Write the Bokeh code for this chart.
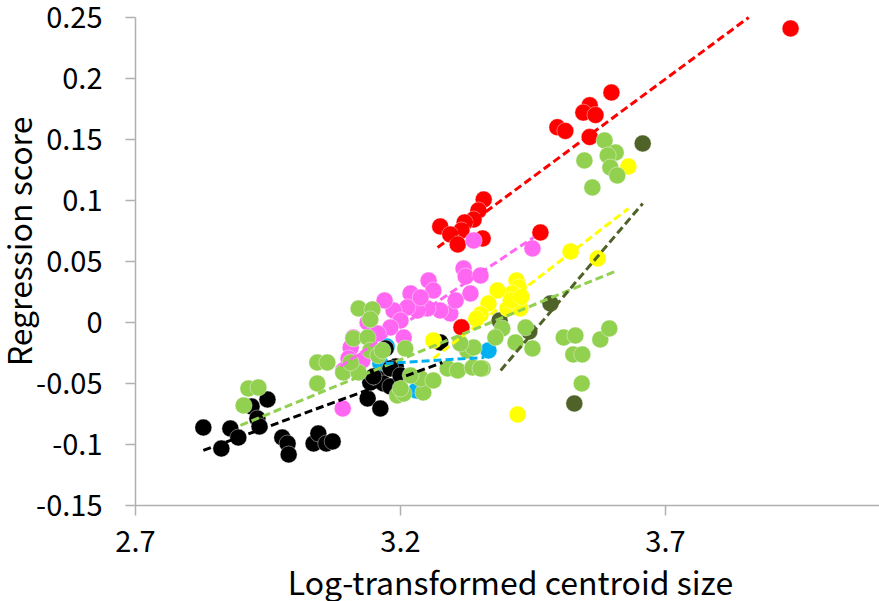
import math
from bokeh.plotting import figure
from bokeh.models import Range1d, FixedTicker, Label
from bokeh.embed import file_html
from bokeh.resources import INLINE

# ---- data ----
red_x = [3.936, 3.598, 3.557, 3.545, 3.568, 3.496, 3.511, 3.557, 3.357, 3.347, 3.338, 3.321,
         3.315, 3.275, 3.294, 3.308, 3.355, 3.464, 3.315]
red_y = [0.241, 0.1885, 0.178, 0.172, 0.170, 0.160, 0.157, 0.152, 0.1008, 0.0918, 0.0844, 0.082,
         0.0754, 0.0787, 0.0721, 0.064, 0.0689, 0.0738, -0.004]

pink_x = [3.338, 3.449, 3.319, 3.323, 3.351, 3.332, 3.253, 3.262, 3.219, 3.294, 3.275, 3.251,
          3.232, 3.213, 3.187, 3.200, 3.181, 3.206, 3.138, 3.157, 3.111, 3.106, 3.102, 3.128,
          3.092, 3.091, 3.170, 3.238, 3.304]
pink_y = [0.0672, 0.0607, 0.0443, 0.0377, 0.0385, 0.0238, 0.0344, 0.0262, 0.0238, 0.0074, 0.0098,
          0.0115, 0.0098, 0.0123, 0.0098, 0.0016, -0.0041, -0.0123, 0.0, -0.009, -0.0123, -0.0205,
          -0.0295, -0.0311, -0.0393, -0.0705, 0.018, 0.0205, 0.018]

yellow_x = [3.630, 3.521, 3.572, 3.419, 3.423, 3.411, 3.383, 3.366, 3.351, 3.402, 3.426, 3.262,
            3.421, 3.343, 3.408, 3.428]
yellow_y = [0.1279, 0.0582, 0.0525, 0.0344, 0.0287, 0.0238, 0.0262, 0.0156, 0.0066, 0.0115,
            0.0115, -0.0148, -0.0754, 0.003, 0.018, 0.021]

green_x = [3.585, 3.606, 3.591, 3.547, 3.596, 3.609, 3.562, 3.508, 3.530, 3.526, 3.543, 3.577,
           3.594, 3.542, 3.392, 3.379, 3.417, 3.436, 3.449, 3.355, 2.913, 2.932, 2.904, 3.043,
           3.062, 3.043, 3.121, 3.147, 3.143, 3.111, 3.138, 3.092, 3.121, 3.143, 3.158, 3.209,
           3.194, 3.206, 3.243, 3.238, 3.219, 3.262, 3.289, 3.308, 3.336, 3.351, 3.326, 3.338,
           3.313, 3.166, 3.106, 3.200]
green_y = [0.1492, 0.1393, 0.1369, 0.1328, 0.127, 0.1205, 0.1107, -0.0123, -0.0107, -0.0262,
           -0.0262, -0.0139, -0.0049, -0.05, -0.0049, -0.0123, -0.0164, -0.0041, -0.0213, -0.0377,
           -0.0541, -0.0533, -0.068, -0.0328, -0.0328, -0.05, 0.0115, 0.0107, 0.0025, -0.0131,
           -0.0123, -0.041, -0.041, -0.023, -0.027, -0.0213, -0.0598, -0.0582, -0.0574, -0.0459,
           -0.0434, -0.0475, -0.0377, -0.0393, -0.0369, -0.0377, -0.023, -0.0205, -0.0172, -0.023,
           -0.0328, -0.0541]

olive_x = [3.657, 3.483, 3.443, 3.387, 3.528]
olive_y = [0.1467, 0.0156, -0.0074, 0.0016, -0.0664]

blue_x = [3.366, 3.174, 3.162, 3.230]
blue_y = [-0.023, -0.0197, -0.0336, -0.0557]

black_x = [2.828, 2.862, 2.879, 2.894, 2.919, 2.930, 2.934, 2.949, 2.977, 2.987, 2.989, 3.036,
           3.045, 3.060, 3.072, 3.138, 3.162, 3.143, 3.157, 3.168, 3.181, 3.191, 3.172, 3.149,
           3.181, 3.275, 3.200]
black_y = [-0.0861, -0.1033, -0.0869, -0.0943, -0.0689, -0.0787, -0.0852, -0.0631, -0.0943,
           -0.0992, -0.1082, -0.0992, -0.091, -0.0992, -0.0975, -0.0623, -0.0705, -0.0492, -0.0459,
           -0.05, -0.0525, -0.0361, -0.0213, -0.0443, -0.0377, -0.0164, -0.0434]

# trend line end points per group
trend_groups = ["red", "pink", "yellow", "green", "olive", "blue", "black"]
trend_x0 = [3.270, 3.087, 3.262, 2.898, 3.389, 3.172, 2.828]
trend_y0 = [0.0615, -0.036, -0.0295, -0.0844, -0.0393, -0.0336, -0.1049]
trend_x1 = [3.857, 3.451, 3.630, 3.609, 3.657, 3.358, 3.279]
trend_y1 = [0.2500, 0.0697, 0.0934, 0.0426, 0.0975, -0.0287, -0.0328]

x_ticks = [2.7, 3.2, 3.7]
y_ticks = [-0.15, -0.1, -0.05, 0, 0.05, 0.1, 0.15, 0.2, 0.25]
y_tick_labels = ["-0.15", "-0.1", "-0.05", "0", "0.05", "0.1", "0.15", "0.2", "0.25"]

x_axis_min, x_axis_max = 2.7, 4.104
y_axis_min, y_axis_max = -0.15, 0.25

x_title = "Log-transformed centroid size"
y_title = "Regression score"

colors = {
    "red": "#FF0000",
    "pink": "#FF66F2",
    "yellow": "#FFFF00",
    "green": "#92D050",
    "olive": "#4F6228",
    "blue": "#00B0F0",
    "black": "#000000",
}

FONT = "Noto Sans CJK JP"

# the frame covers the whole canvas; the axes sit at fixed positions inside it
p = figure(width=879, height=601,
           x_range=Range1d(2.4453, 4.1038), y_range=Range1d(-0.2287, 0.2639),
           output_backend="svg", toolbar_location=None,
           min_border_left=0, min_border_right=0, min_border_top=0, min_border_bottom=0)
p.outline_line_color = None
p.xgrid.visible = False
p.ygrid.visible = False
p.background_fill_color = "white"
p.border_fill_color = "white"

series = [("red", red_x, red_y), ("blue", blue_x, blue_y), ("black", black_x, black_y),
          ("olive", olive_x, olive_y), ("pink", pink_x, pink_y), ("yellow", yellow_x, yellow_y),
          ("green", green_x, green_y)]
for name, xs, ys in series:
    p.scatter(xs, ys, size=17, fill_color=colors[name], line_color="white",
              line_alpha=0.5, line_width=0.8)

for g, x0, y0, x1, y1 in zip(trend_groups, trend_x0, trend_y0, trend_x1, trend_y1):
    p.line([x0, x1], [y0, y1], line_color=colors[g], line_width=3, line_dash="8 4")

for ax in (p.xaxis[0], p.yaxis[0]):
    ax.axis_line_color = "#B0B0B0"
    ax.major_tick_line_color = "#B0B0B0"
    ax.axis_line_width = 1.5
    ax.major_tick_line_width = 1.5
    ax.major_tick_out = 10
    ax.major_tick_in = 0
    ax.minor_tick_line_color = None
    ax.major_label_text_font = FONT
    ax.major_label_text_font_size = "29px"
    ax.major_label_text_color = "black"

p.xaxis.fixed_location = y_axis_min
p.yaxis.fixed_location = x_axis_min
p.xaxis.bounds = (x_axis_min, x_axis_max)
p.yaxis.bounds = (y_axis_min, y_axis_max)
p.xaxis.ticker = FixedTicker(ticks=x_ticks)
p.yaxis.ticker = FixedTicker(ticks=y_ticks)
p.yaxis.major_label_overrides = {t: s for t, s in zip(y_ticks, y_tick_labels)}
p.xaxis.major_label_standoff = 16
p.yaxis.major_label_standoff = 23

# axis titles placed where the reference shows them
p.add_layout(Label(x=3.4075, y=-0.2115, text=x_title, text_font=FONT, text_font_size="32px",
                   text_align="center", text_baseline="middle", text_color="black"))
p.add_layout(Label(x=2.4774, y=0.0664, text=y_title, text_font=FONT, text_font_size="32px",
                   angle=math.pi / 2, text_align="center", text_baseline="middle",
                   text_color="black"))

open("out.html", "w").write(file_html(p, INLINE))
